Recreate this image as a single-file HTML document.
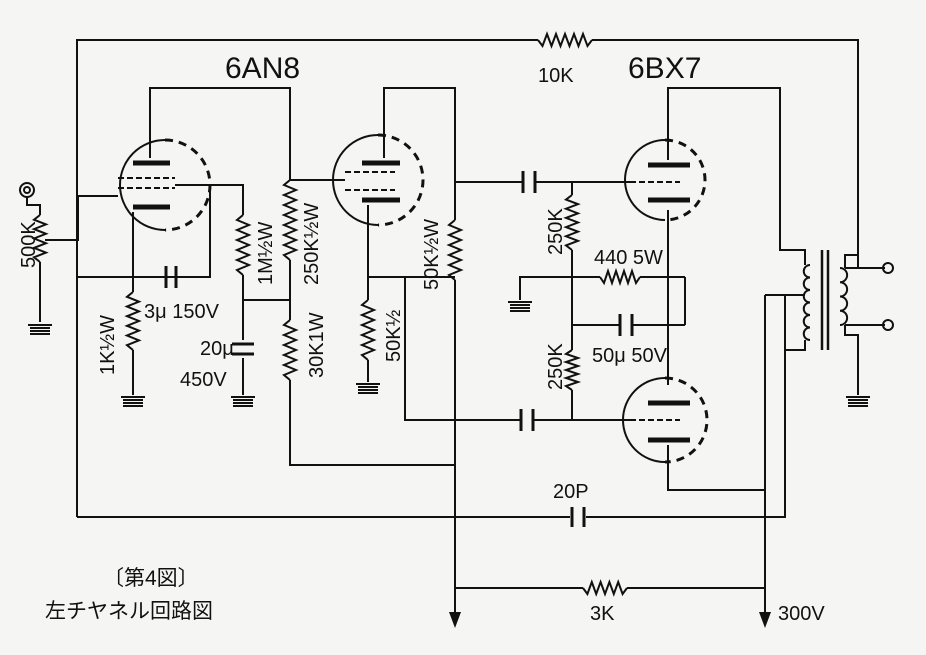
<!DOCTYPE html>
<html><head><meta charset="utf-8"><style>
html,body{margin:0;padding:0;background:#f5f5f3;}
svg{display:block}
text{font-family:"Liberation Sans","Noto Sans CJK JP",sans-serif;fill:#111}
</style></head><body>
<svg id="s" width="926" height="655" viewBox="0 0 926 655" xmlns="http://www.w3.org/2000/svg">
<rect width="926" height="655" fill="#f5f5f3"/>
<g id="w" stroke="#111" stroke-width="2" fill="none">
<polyline points="77,517 77,40 538,40"/><polyline points="592,40 858,40 858,268"/>
<polyline points="77,517 570,517"/><polyline points="586,517 785,517 785,295"/>
<line x1="572" y1="507" x2="572" y2="527" stroke-width="3"/><line x1="584" y1="507" x2="584" y2="527" stroke-width="3"/>
<circle cx="27" cy="190" r="7"/><circle cx="27" cy="190" r="3"/>
<polyline points="27,197 27,205 40,205 40,215"/><polyline points="40,262 40,322"/>
<polyline points="45,240 78,240 78,196 118,196"/>
<path d="M165,140 A45,45 0 0 0 165,230"/><path d="M165,140 A45,45 0 0 1 165,230" stroke-dasharray="8,6" stroke-width="3"/>
<line x1="133" y1="163" x2="170" y2="163" stroke-width="5"/><line x1="133" y1="207" x2="170" y2="207" stroke-width="5"/>
<line x1="118" y1="178" x2="175" y2="178" stroke-dasharray="6,3"/><line x1="118" y1="188" x2="175" y2="188" stroke-dasharray="6,3"/>
<polyline points="150,158 150,88 290,88 290,180"/>
<polyline points="175,185 243,185 243,215"/><polyline points="243,275 243,340"/><polyline points="243,358 243,395"/>
<line x1="232" y1="344" x2="254" y2="344" stroke-width="3"/><line x1="232" y1="354" x2="254" y2="354" stroke-width="3"/>
<polyline points="210,185 210,277 77,277"/><polyline points="133,212 133,277"/>
<polyline points="133,277 133,292"/><polyline points="133,350 133,395"/>
<line x1="166" y1="266" x2="166" y2="288" stroke-width="3"/><line x1="176" y1="266" x2="176" y2="288" stroke-width="3"/>
<polyline points="243,300 290,300"/><polyline points="290,260 290,320"/><polyline points="290,380 290,465 455,465"/>
<path d="M378,135 A42,42 0 0 0 378,225"/><path d="M378,135 A42,42 0 0 1 378,225" stroke-dasharray="8,6" stroke-width="3"/>
<line x1="345" y1="180" x2="290" y2="180"/>
<line x1="362" y1="163" x2="400" y2="163" stroke-width="5"/><line x1="362" y1="200" x2="400" y2="200" stroke-width="5"/>
<line x1="345" y1="172" x2="395" y2="172" stroke-dasharray="6,3"/><line x1="345" y1="190" x2="395" y2="190" stroke-dasharray="6,3"/>
<polyline points="384,158 384,88 455,88 455,220"/><polyline points="455,280 455,620"/>
<polyline points="368,205 368,277 455,277"/><polyline points="368,277 368,300"/><polyline points="368,360 368,382"/>
<polyline points="405,277 405,420 521,420"/><polyline points="533,420 572,420"/>
<line x1="521" y1="409" x2="521" y2="431" stroke-width="3"/><line x1="533" y1="409" x2="533" y2="431" stroke-width="3"/>
<polyline points="455,182 523,182"/><polyline points="535,182 630,182"/>
<line x1="523" y1="171" x2="523" y2="193" stroke-width="3"/><line x1="535" y1="171" x2="535" y2="193" stroke-width="3"/>
<polyline points="572,182 572,195"/><polyline points="572,250 572,350"/><polyline points="572,390 572,420 630,420"/>
<polyline points="520,300 520,277 600,277"/><polyline points="640,277 685,277"/>
<polyline points="572,325 620,325"/><polyline points="632,325 685,325"/>
<line x1="620" y1="314" x2="620" y2="336" stroke-width="3"/><line x1="632" y1="314" x2="632" y2="336" stroke-width="3"/>
<polyline points="685,277 685,325"/><polyline points="668,210 668,385"/>
<path d="M665,140 A40,40 0 0 0 665,220"/><path d="M665,140 A40,40 0 0 1 665,220" stroke-dasharray="8,6" stroke-width="3"/>
<line x1="648" y1="165" x2="690" y2="165" stroke-width="5"/><line x1="648" y1="200" x2="690" y2="200" stroke-width="5"/>
<line x1="630" y1="182" x2="680" y2="182" stroke-dasharray="6,3"/>
<polyline points="668,160 668,88 780,88 780,250 805,250 805,265"/>
<path d="M665,378 A42,42 0 0 0 665,462"/><path d="M665,378 A42,42 0 0 1 665,462" stroke-dasharray="8,6" stroke-width="3"/>
<line x1="648" y1="403" x2="690" y2="403" stroke-width="5"/><line x1="648" y1="440" x2="690" y2="440" stroke-width="5"/>
<line x1="630" y1="420" x2="680" y2="420" stroke-dasharray="6,3"/>
<polyline points="668,445 668,490 765,490"/>
<polyline points="765,295 805,295"/><polyline points="805,340 805,350 785,350"/>
<polyline points="765,295 765,620"/>
<line x1="822" y1="250" x2="822" y2="350" stroke-width="2.5"/><line x1="828" y1="250" x2="828" y2="350" stroke-width="2.5"/>
<polyline points="845,268 885,268"/><polyline points="845,325 885,325"/><polyline points="845,268 845,255 858,255"/>
<polyline points="845,325 845,335 858,335 858,395"/>
<circle cx="888" cy="268" r="5"/><circle cx="888" cy="325" r="5"/>
<polyline points="455,588 583,588"/><polyline points="627,588 765,588"/>
</g>
<g fill="#111">
<polygon points="449,612 461,612 455,628"/><polygon points="759,612 771,612 765,628"/>
</g>
<g font-size="30"><text x="225" y="78">6AN8</text><text x="628" y="78">6BX7</text></g>
<g font-size="20">
<text x="538" y="82">10K</text>
<text x="144" y="318">3μ 150V</text>
<text x="200" y="355">20μ</text><text x="180" y="386">450V</text>
<text x="594" y="264">440 5W</text>
<text x="592" y="362">50μ 50V</text>
<text x="553" y="498">20P</text>
<text x="590" y="620">3K</text><text x="778" y="620">300V</text>
<text transform="translate(35,268) rotate(-90)">500K</text>
<text transform="translate(114,375) rotate(-90)">1K½W</text>
<text transform="translate(272,285) rotate(-90)">1M½W</text>
<text transform="translate(318,285) rotate(-90)">250K½W</text>
<text transform="translate(323,378) rotate(-90)">30K1W</text>
<text transform="translate(438,290) rotate(-90)">50K½W</text>
<text transform="translate(400,362) rotate(-90)">50K½</text>
<text transform="translate(562,255) rotate(-90)">250K</text>
<text transform="translate(562,390) rotate(-90)">250K</text>
</g>
<g font-size="21"><text x="103" y="585">〔第4図〕</text><text x="45" y="618">左チヤネル回路図</text></g>
</svg>
<script>
var g=document.getElementById('w');
function zz(x1,y1,x2,y2,n,a){var dx=x2-x1,dy=y2-y1,L=Math.hypot(dx,dy),ux=dx/L,uy=dy/L,px=-uy,py=ux,p=[x1+','+y1];
for(var i=1;i<n*2;i++){var t=i/(n*2),s=(i%2?1:-1)*a;p.push((x1+dx*t+px*s)+','+(y1+dy*t+py*s));}
p.push(x2+','+y2);var e=document.createElementNS('http://www.w3.org/2000/svg','polyline');e.setAttribute('points',p.join(' '));g.appendChild(e);}
zz(538,40,592,40,6,6);zz(40,215,40,262,5,6);zz(133,292,133,350,6,6);zz(243,215,243,275,6,6);zz(290,180,290,260,8,6);
zz(290,320,290,380,6,6);zz(455,220,455,280,6,6);zz(368,300,368,360,6,6);zz(572,195,572,250,6,6);zz(572,350,572,390,5,6);
zz(600,277,640,277,5,6);zz(583,588,627,588,5,6);
function coil(x,y1,y2,n,d){var p='M'+x+','+y1,h=(y2-y1)/n;for(var i=0;i<n;i++)p+=' a'+(h/2)+','+(h/2)+' 0 0 '+(d>0?1:0)+' 0,'+h;
var e=document.createElementNS('http://www.w3.org/2000/svg','path');e.setAttribute('d',p);g.appendChild(e);}
coil(810,265,340,6,-1);coil(840,268,325,4,1);
function gnd(x,y){for(var i=0;i<4;i++){var e=document.createElementNS('http://www.w3.org/2000/svg','line');
e.setAttribute('x1',x-10);e.setAttribute('x2',x+10);e.setAttribute('y1',y+i*3);e.setAttribute('y2',y+i*3);g.appendChild(e);}
var l=document.createElementNS('http://www.w3.org/2000/svg','line');l.setAttribute('x1',x-12);l.setAttribute('x2',x+12);l.setAttribute('y1',y);l.setAttribute('y2',y);g.appendChild(l);}
gnd(40,325);gnd(133,397);gnd(243,397);gnd(368,384);gnd(520,302);gnd(858,397);
</script>
</body></html>
